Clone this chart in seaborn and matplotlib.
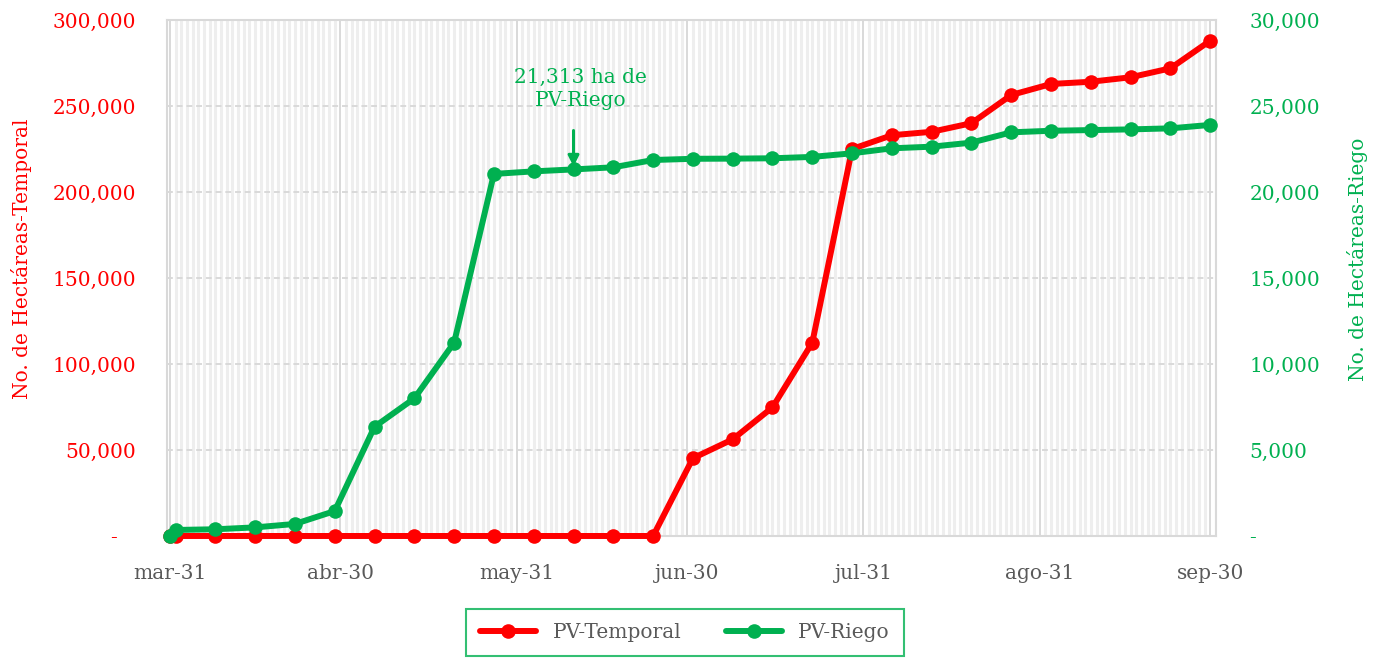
import numpy as np
import pandas as pd
import matplotlib.pyplot as plt
import matplotlib.dates as mdates
import matplotlib.ticker as mticker
import seaborn as sns

fechas = ['2021-03-31', '2021-04-01', '2021-04-08', '2021-04-15', '2021-04-22', '2021-04-29',
          '2021-05-06', '2021-05-13', '2021-05-20', '2021-05-27', '2021-06-03', '2021-06-10',
          '2021-06-17', '2021-06-24', '2021-07-01', '2021-07-08', '2021-07-15', '2021-07-22',
          '2021-07-29', '2021-08-05', '2021-08-12', '2021-08-19', '2021-08-26', '2021-09-02',
          '2021-09-09', '2021-09-16', '2021-09-23', '2021-09-30']
temporal = [0, 0, 0, 0, 0, 0, 0, 0, 0, 0, 0, 0, 0, 0,
            45200, 56200, 74800, 112400, 225000, 233000, 235000, 240000,
            256400, 262800, 264100, 266700, 271900, 288000]
riego = [0, 350, 390, 500, 700, 1450, 6350, 8000, 11240, 21050, 21200, 21313,
         21435, 21860, 21930, 21940, 21960, 22040, 22250, 22540, 22635, 22870,
         23470, 23560, 23600, 23640, 23700, 23900]

tick_fechas = ['2021-03-31', '2021-04-30', '2021-05-31', '2021-06-30',
               '2021-07-31', '2021-08-31', '2021-09-30']
tick_labels = ['mar-31', 'abr-30', 'may-31', 'jun-30', 'jul-31', 'ago-31', 'sep-30']

nota_fecha = '2021-06-10'
nota_valor = 21313
nota_texto = '21,313 ha de\nPV-Riego'

rojo = '#ff0000'
verde = '#00b050'
gris = '#595959'

df = pd.DataFrame({'fecha': pd.to_datetime(fechas), 'temporal': temporal, 'riego': riego})

sns.set_style('white')
plt.rcParams['font.family'] = ['DejaVu Serif']

fig, ax = plt.subplots(figsize=(13.78, 6.6), dpi=100)
fig.subplots_adjust(left=0.1212, right=0.8824, top=0.9697, bottom=0.1879)
ax2 = ax.twinx()

sns.lineplot(data=df, x='fecha', y='temporal', ax=ax, color=rojo, lw=4.3, marker='o',
             markersize=10.5, markeredgewidth=0, label='PV-Temporal', legend=False,
             clip_on=False, zorder=3)
sns.lineplot(data=df, x='fecha', y='riego', ax=ax2, color=verde, lw=4.3, marker='o',
             markersize=10.5, markeredgewidth=0, label='PV-Riego', legend=False,
             clip_on=False, zorder=3)

ax.set_xlim(pd.Timestamp('2021-03-30 12:00'), pd.Timestamp('2021-10-01'))
ax.set_ylim(0, 300000)
ax2.set_ylim(0, 30000)
ax.yaxis.set_major_locator(mticker.MultipleLocator(50000))
ax2.yaxis.set_major_locator(mticker.MultipleLocator(5000))
ax.yaxis.set_major_formatter(mticker.FuncFormatter(lambda v, p: '-   ' if v == 0 else f'{v:,.0f}'))
ax2.yaxis.set_major_formatter(mticker.FuncFormatter(lambda v, p: '-' if v == 0 else f'{v:,.0f}'))

ax.xaxis.set_major_locator(mticker.FixedLocator(mdates.date2num(pd.to_datetime(tick_fechas))))
ax.xaxis.set_major_formatter(mticker.FixedFormatter(tick_labels))
ax.xaxis.set_minor_locator(mdates.DayLocator())

ax.set_axisbelow(True)
ax.grid(which='minor', axis='x', color='#eeeeee', lw=2.2)
ax.grid(which='major', axis='x', color='#d9d9d9', lw=1.4)
ax.grid(which='major', axis='y', color='#d9d9d9', lw=1.4, ls=(0, (3, 2)))
ax2.grid(False)

for s in ax.spines.values():
    s.set_color('#d9d9d9')
    s.set_linewidth(1.5)
for s in ax2.spines.values():
    s.set_visible(False)

ax.tick_params(axis='x', which='major', length=6, width=1.4, color='#d9d9d9',
               labelcolor=gris, labelsize=14.5, pad=14)
ax.tick_params(axis='x', which='minor', length=0)
ax.tick_params(axis='y', length=0, labelcolor=rojo, labelsize=14.5, pad=22)
ax2.tick_params(axis='y', length=0, labelcolor=verde, labelsize=14.5, pad=24)

ax.set_xlabel('')
ax.set_ylabel('No. de Hectáreas-Temporal', color=rojo, fontsize=14.5)
ax2.set_ylabel('No. de Hectáreas-Riego', color=verde, fontsize=14.5, rotation=90)
ax.yaxis.set_label_coords(-0.129, 0.537)
ax2.yaxis.set_label_coords(1.125, 0.537)

x_nota = pd.Timestamp(nota_fecha)
ax2.annotate('', xy=(x_nota, nota_valor), xytext=(0, 28), textcoords='offset points',
             arrowprops=dict(arrowstyle='-|>', color=verde, lw=2.2, shrinkA=0, shrinkB=2,
                             mutation_scale=16))
ax2.annotate(nota_texto, xy=(x_nota, nota_valor), xytext=(5, 58), textcoords='offset points',
             ha='center', va='center', color=verde, fontsize=14.5, linespacing=1.3)

leg = fig.legend(handles=[ax.lines[0], ax2.lines[0]], labels=['PV-Temporal', 'PV-Riego'],
                 loc='center', bbox_to_anchor=(0.497, 0.042), ncol=2, frameon=True,
                 fancybox=False, edgecolor=verde, fontsize=14.5, handlelength=2.8,
                 columnspacing=2.2, borderpad=0.7, borderaxespad=0)
for t in leg.get_texts():
    t.set_color(gris)
leg.get_frame().set_linewidth(1.5)

plt.savefig('out.png', dpi=100)
